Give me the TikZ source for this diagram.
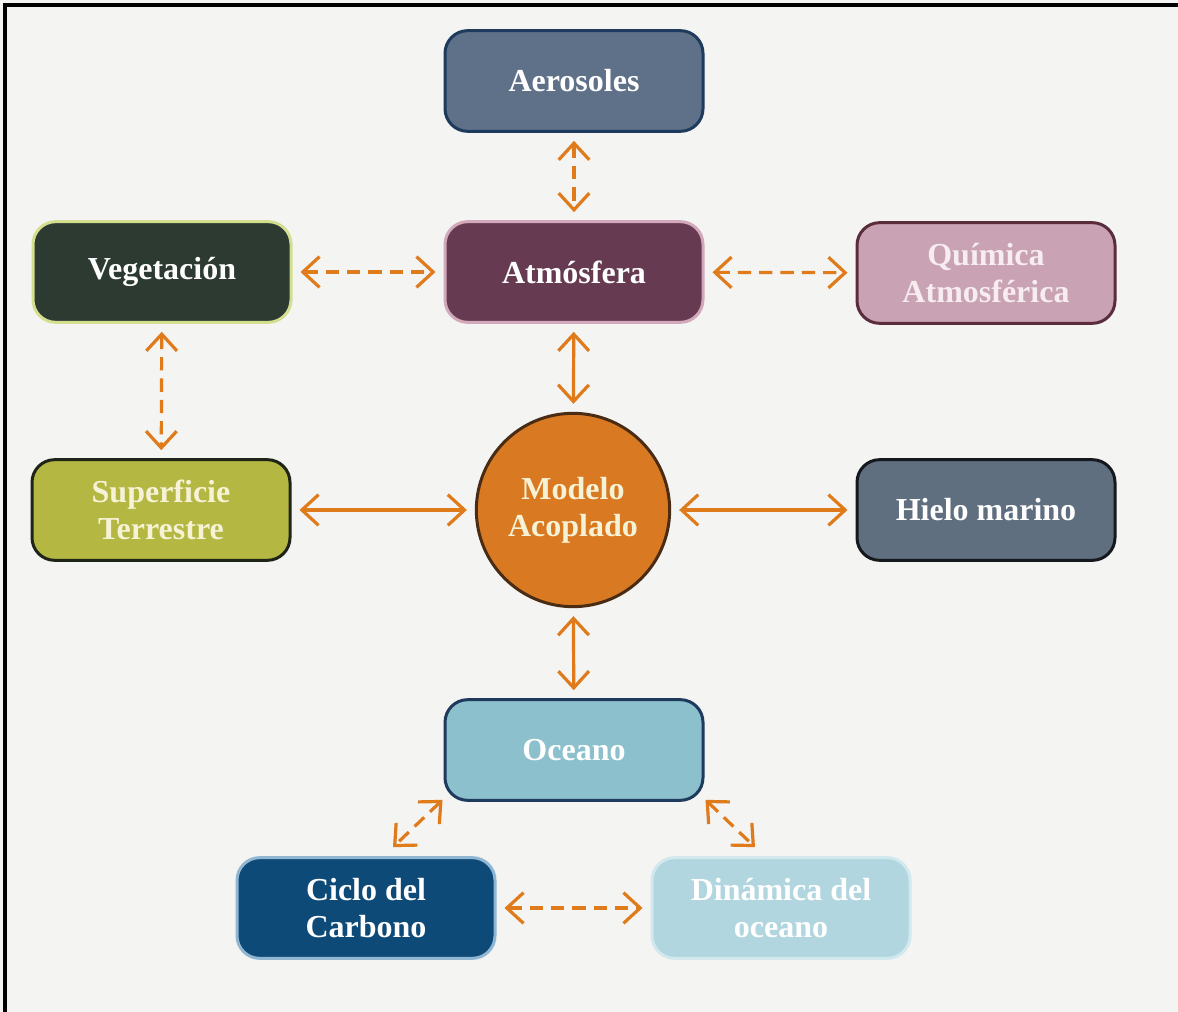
\documentclass[tikz,border=0pt]{standalone}
\usepackage{fontspec}
\setmainfont{Liberation Serif}
\usetikzlibrary{arrows.meta}

\definecolor{paper}{HTML}{F4F4F2}
\definecolor{link}{HTML}{E07B1C}
\definecolor{aerofill}{HTML}{5F7189}
\definecolor{navyedge}{HTML}{1E3A5C}
\definecolor{atmfill}{HTML}{663A50}
\definecolor{atmedge}{HTML}{D2A9BA}
\definecolor{vegfill}{HTML}{2C3A31}
\definecolor{vegedge}{HTML}{D3DE8E}
\definecolor{quimfill}{HTML}{C9A3B4}
\definecolor{quimedge}{HTML}{5A2C3C}
\definecolor{supfill}{HTML}{B4B741}
\definecolor{supedge}{HTML}{1F2419}
\definecolor{modfill}{HTML}{D97A22}
\definecolor{modedge}{HTML}{4A2C14}
\definecolor{hielofill}{HTML}{5F6F80}
\definecolor{hieloedge}{HTML}{15191E}
\definecolor{ocefill}{HTML}{8CC0CC}
\definecolor{ciclofill}{HTML}{0D4A78}
\definecolor{cicloedge}{HTML}{8FB6D2}
\definecolor{dinfill}{HTML}{B1D6DF}
\definecolor{dinedge}{HTML}{D0E8EE}
\definecolor{cream}{HTML}{F6F2D6}
\definecolor{pinkwhite}{HTML}{F7ECF0}

\tikzset{
  box/.style={rectangle, rounded corners=17pt, line width=2.25pt,
    minimum width=193.5pt, minimum height=75.5pt, align=center,
    text=white, font=\bfseries\fontsize{24}{27.5}\selectfont},
  hub/.style={circle, line width=2.25pt, minimum size=145pt, inner sep=0pt,
    align=center, text=cream, font=\bfseries\fontsize{24}{27.5}\selectfont},
  link/.style={draw=link, line width=2.4pt,
    {Straight Barb[length=12.5pt,width=23pt]}-{Straight Barb[length=12.5pt,width=23pt]},
    shorten <=6pt, shorten >=6pt},
  dashlink/.style={link, dash pattern=on 10pt off 6pt},
}

\begin{document}
\begin{tikzpicture}[x=0.75pt,y=-0.75pt]
  % page and frame
  \fill[paper] (0,0) rectangle (1178,1012);
  \useasboundingbox (0,0) rectangle (1178,1012);
  \draw[black, line width=2.3pt] (5,1012) -- (5,5) -- (1178,5);

  % components
  \node[box, fill=aerofill, draw=navyedge] (aero) at (574,81) {Aerosoles};
  \node[box, fill=atmfill, draw=atmedge] (atm) at (574,272) {Atmósfera};
  \node[box, fill=vegfill, draw=vegedge] (veg) at (162,272) {Vegetación};
  \node[box, fill=quimfill, draw=quimedge, text=pinkwhite] (quim) at (986,273) {Química\\Atmosférica};
  \node[box, fill=supfill, draw=supedge, text=cream] (sup) at (161,510) {Superficie\\Terrestre};
  \node[hub, fill=modfill, draw=modedge] (mod) at (573,510) {Modelo\\Acoplado};
  \node[box, fill=hielofill, draw=hieloedge] (hielo) at (986,510) {Hielo marino};
  \node[box, fill=ocefill, draw=navyedge] (oce) at (574,750) {Oceano};
  \node[box, fill=ciclofill, draw=cicloedge] (ciclo) at (366,908) {Ciclo del\\Carbono};
  \node[box, fill=dinfill, draw=dinedge] (din) at (781,908) {Dinámica del\\oceano};

  % couplings
  \draw[dashlink] (aero) -- (atm);
  \draw[dashlink] (veg) -- (atm);
  \draw[dashlink] (atm) -- (quim);
  \draw[dashlink] (veg) -- (sup);
  \draw[link] (atm) -- (mod);
  \draw[link] (sup) -- (mod);
  \draw[link] (mod) -- (hielo);
  \draw[link] (mod) -- (oce);
  \draw[dashlink] (ciclo) -- (din);
  \draw[dashlink, shorten <=0pt, shorten >=0pt]
    ([shift={(-1,-2)}]oce.south west) -- ([shift={(27,-9)}]ciclo.north);
  \draw[dashlink, shorten <=0pt, shorten >=0pt]
    ([shift={(1,-2)}]oce.south east) -- ([shift={(-26,-9)}]din.north);
\end{tikzpicture}
\end{document}
